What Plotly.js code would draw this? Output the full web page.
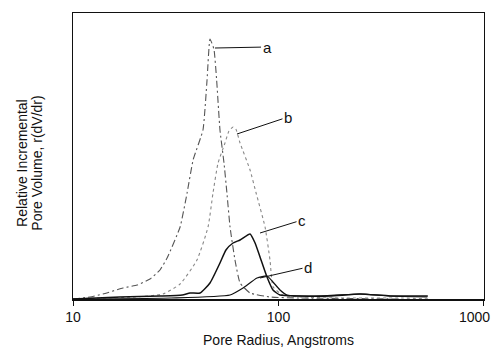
<!DOCTYPE html>
<html>
<head>
<meta charset="utf-8">
<script src="https://cdn.plot.ly/plotly-3.0.1.min.js"></script>
<style>
  html, body { margin: 0; padding: 0; background: #fff; }
  #chart { width: 493px; height: 352px; }
</style>
</head>
<body>
<div id="chart"></div>
<script>
// Pore size distributions, relative incremental pore volume r(dV/dr) vs pore radius (Å)
const radiusA = [10, 12.1, 14, 17.5, 20.5, 23.7, 26.5, 28.7, 33.2, 35.9, 38.4, 42.9, 44.9, 46.4, 48.5, 50.0, 51.9, 54.3, 56.1, 58.1, 61.4, 65, 72.7, 90.9, 127, 390];
const volumeA = [0, 2, 5, 11, 14, 20, 29, 41, 72, 106, 139, 169, 219, 260, 250, 219, 169, 136, 106, 72, 39, 16, 6, 2, 1, 0];

const radiusB = [10, 13.5, 20, 27.4, 33.2, 40.1, 45.4, 48, 50.8, 54.9, 57.4, 60.1, 62, 65, 72.7, 77.8, 86, 90.9, 94.2, 105, 127, 200, 400, 550];
const volumeB = [0, 1, 2, 5, 15, 39, 72, 106, 136, 156, 168, 172, 170, 156, 129, 106, 72, 39, 12, 4, 2, 1, 1, 0];

const radiusC = [10, 16.9, 26.5, 34, 37.1, 41.5, 46.4, 51.9, 55.5, 60.1, 65, 72.7, 76.9, 81.3, 87.9, 94, 101.7, 127, 178, 249, 349, 533];
const volumeC = [0, 2, 3, 4, 6, 6, 16, 36, 49, 56, 59, 65, 56, 42, 22, 9, 4, 3, 3, 5, 3, 3];

const radiusD = [10, 30, 58.1, 67.2, 78.6, 87.9, 94, 101.7, 110, 150, 250, 350, 530];
const volumeD = [0, 1, 4, 11, 21, 23, 17, 9, 4, 3, 5, 3, 2];

const tickValues = [10, 100, 1000];
const tickLabels = ['10', '100', '1000'];

// curve labels and the point each leader line touches
const curveLabels = ['a', 'b', 'c', 'd'];
const labelRadius = [49.1, 62.8, 81.3, 81.3];
const labelVolume = [251, 165, 66, 21];
const labelShiftX = [52, 51, 42, 48];
const labelShiftY = [-1, -17, -13, -11];

const yTitleLines = ['Relative Incremental', 'Pore Volume, r(dV/dr)'];

const font = 'Liberation Sans, Arial, Helvetica, sans-serif';
const ink = '#111';

const traces = [
  { x: radiusA, y: volumeA, mode: 'lines', line: { color: '#555', width: 1.1, dash: '7px,3px,2px,3px', shape: 'spline', smoothing: 0.4 } },
  { x: radiusB, y: volumeB, mode: 'lines', line: { color: '#888', width: 1.1, dash: 'dot', shape: 'spline', smoothing: 0.5 } },
  { x: radiusC, y: volumeC, mode: 'lines', line: { color: ink, width: 1.5, shape: 'spline', smoothing: 0.5 } },
  { x: radiusD, y: volumeD, mode: 'lines', line: { color: ink, width: 1.2, shape: 'spline', smoothing: 0.5 } }
];

const annotations = curveLabels.map((t, i) => ({
  x: Math.log10(labelRadius[i]), y: labelVolume[i], xref: 'x', yref: 'y',
  text: t, showarrow: true, arrowhead: 0, arrowwidth: 1, arrowcolor: ink,
  ax: labelShiftX[i], ay: labelShiftY[i], standoff: 0,
  font: { family: font, size: 15, color: ink }
}));

// y-axis title, two rotated lines left of the axis
yTitleLines.forEach((t, i) => {
  annotations.push({
    xref: 'paper', yref: 'paper', x: i === 0 ? -0.124 : -0.088, y: 0.476,
    xanchor: 'center', yanchor: 'middle', textangle: -90, showarrow: false,
    text: t, font: { family: font, size: 14, color: ink }
  });
});

// last x tick label, kept inside the page's right edge
annotations.push({
  xref: 'paper', yref: 'paper', x: 1.0195, y: -0.063,
  xanchor: 'right', yanchor: 'middle', showarrow: false,
  text: tickLabels[2], font: { family: font, size: 14, color: ink }
});

const layout = {
  width: 493, height: 352,
  margin: { l: 73, r: 9, t: 13, b: 53 },
  paper_bgcolor: '#fff', plot_bgcolor: '#fff',
  showlegend: false,
  font: { family: font, size: 14, color: ink },
  xaxis: {
    type: 'log', range: [0.9999, 3.0001],
    tickvals: tickValues, ticktext: [tickLabels[0], tickLabels[1], ''],
    ticks: 'outside', ticklen: 5, tickwidth: 1, tickcolor: ink,
    showgrid: false, zeroline: false,
    showline: true, linecolor: ink, linewidth: 1.5, mirror: true,
    tickfont: { family: font, size: 14, color: ink },
    title: { text: 'Pore Radius, Angstroms', font: { family: font, size: 14, color: ink }, standoff: 11 }
  },
  yaxis: {
    range: [0, 286],
    showticklabels: false, ticks: '',
    showgrid: false, zeroline: false,
    showline: true, linecolor: ink, linewidth: 1.2, mirror: true
  },
  annotations: annotations
};

Plotly.newPlot('chart', traces, layout, { staticPlot: true, displayModeBar: false });
</script>
</body>
</html>
